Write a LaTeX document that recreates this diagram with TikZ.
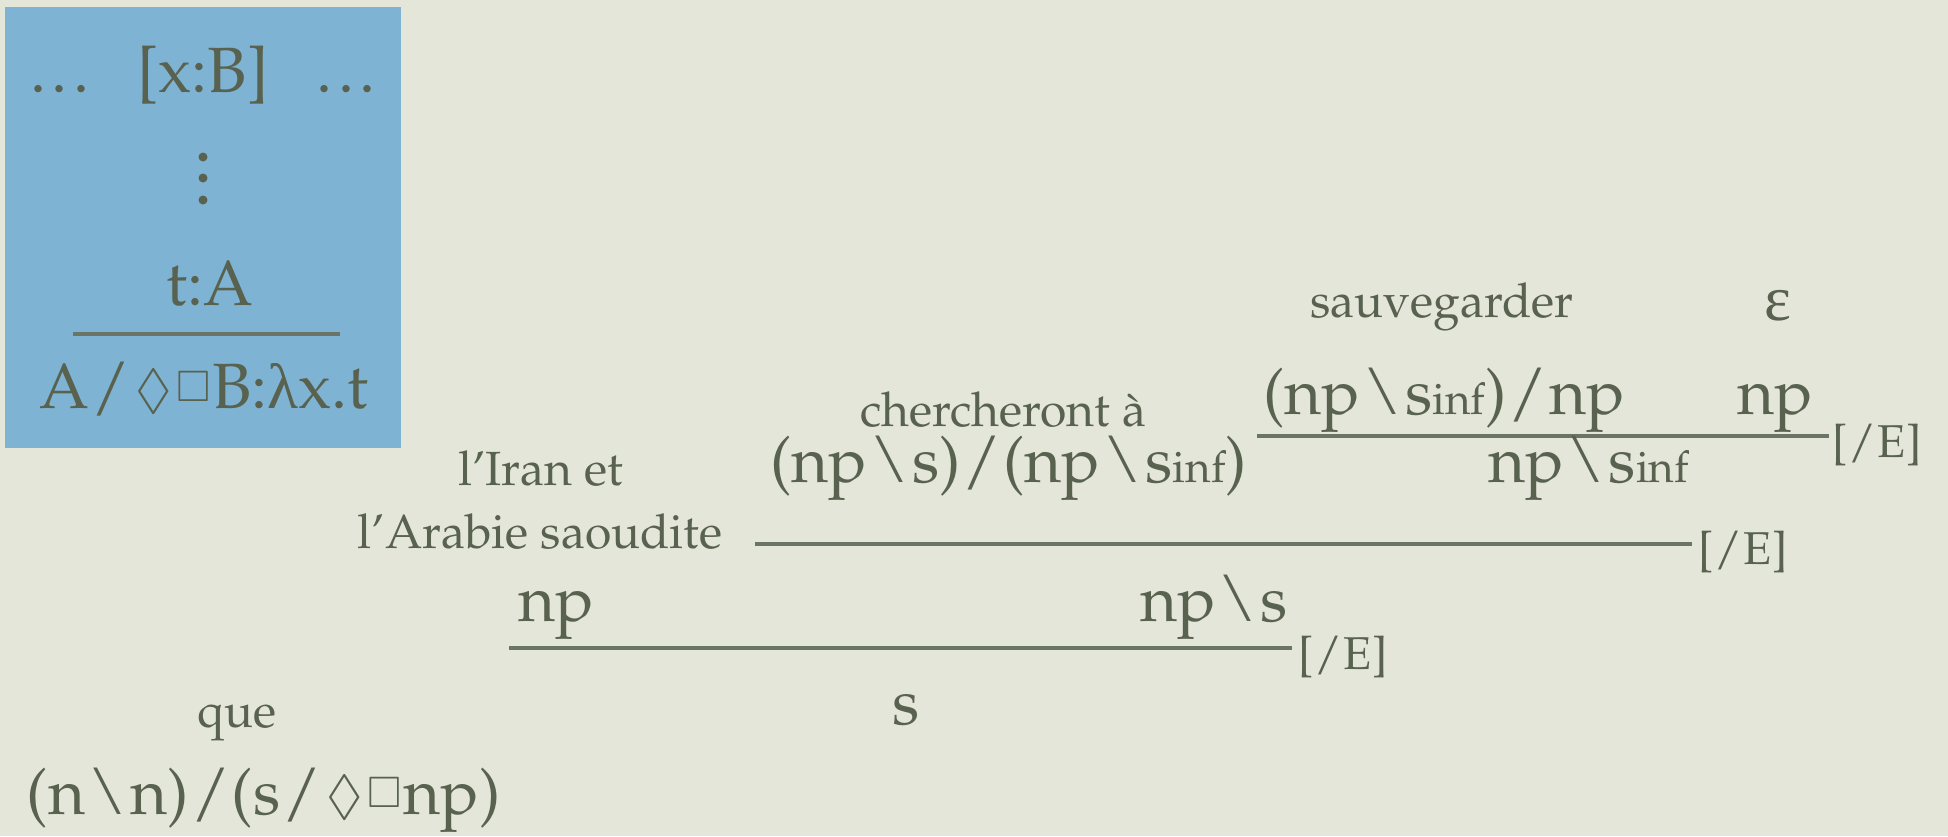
\documentclass[tikz,border=0pt]{standalone}
\usepackage[T1]{fontenc}
\usepackage{mathpazo}
\usepackage{amssymb}
\usepackage{graphicx}
\definecolor{bg}{HTML}{E4E6DA}
\definecolor{ink}{HTML}{58624F}
\definecolor{barc}{HTML}{6A7566}
\definecolor{boxblue}{HTML}{7FB3D4}
\font\grk="Liberation Serif" at 64pt
\newcommand\fbig{\fontsize{64}{70}\selectfont}
\newcommand\flab{\fontsize{48}{63}\selectfont}
\newcommand\frl{\fontsize{46}{50}\selectfont}
\newcommand\bsl{\kern0.05em\textbackslash\kern0.05em}
\newcommand\fsl{\kern0.03em/\kern0.03em}
\newcommand\sinf{s{\fontsize{44}{44}\selectfont inf}}
\newcommand\dbx{\kern0.05em\raisebox{0.01em}{\scalebox{0.82}{$\Diamond$}}\kern0.08em\raisebox{0.1em}{\scalebox{0.66}{$\square$}}\kern0.02em}
\newcommand\tdots{.\kern0.09em.\kern0.09em.}
\begin{document}
\begin{tikzpicture}[x=1pt,y=-1pt,
  every node/.style={inner sep=0pt,outer sep=0pt,text=ink},
  bar/.style={draw=barc,line width=4pt},
  dotn/.style={circle,fill=ink,minimum size=9pt}]
\fill[bg] (0,0) rectangle (1948,836);
\useasboundingbox (0,0) rectangle (1948,836);
% blue box
\fill[boxblue] (5,7) rectangle (401,448);
\node[anchor=base] (hyp) at (203,92) {\fbig\tdots\hspace{0.75em}[x:B]\hspace{0.75em}\tdots};
\node[dotn] (d1) at (203,157) {};
\node[dotn] (d2) at (203,178) {};
\node[dotn] (d3) at (203,200) {};
\node[anchor=base] (tA) at (210,305) {\fbig t:A};
\coordinate (b0l) at (73,334); \coordinate (b0r) at (340,334);
\draw[bar] (b0l) -- (b0r);
\node[anchor=base] (concl) at (204,408) {\fbig A\fsl\dbx B:{\grk λ}x.t};
% top level
\node[anchor=base] (sauv) at (1442,317) {\flab sauvegarder};
\node[anchor=base] (eps) at (1778,320) {\grk ε};
\node[anchor=base west] (f1) at (1263,414) {\fbig(np\bsl\sinf)\fsl np};
\node[anchor=base west] (f2) at (1737,414) {\fbig np};
\coordinate (b1l) at (1257,436); \coordinate (b1r) at (1829,436);
\draw[bar] (b1l) -- (b1r);
\node[anchor=base west] (r1) at (1832,457) {\frl[\fsl E]};
% second level
\node[anchor=base west] (cherch) at (860,426) {\flab chercheront \`a};
\node[anchor=base west] (f3) at (770,482) {\fbig(np\bsl s)\fsl(np\bsl\sinf)};
\node[anchor=base west] (f4) at (1488,482) {\fbig np\bsl\sinf};
\coordinate (b2l) at (755,544); \coordinate (b2r) at (1692,544);
\draw[bar] (b2l) -- (b2r);
\node[anchor=base west] (r2) at (1698,564) {\frl[\fsl E]};
\node[anchor=base] (iran1) at (541,485) {\flab l'Iran et};
\node[anchor=base] (iran2) at (540,548) {\flab l'Arabie saoudite};
% third level
\node[anchor=base west] (f5) at (518,621) {\fbig np};
\node[anchor=base west] (f6) at (1140,621) {\fbig np\bsl s};
\coordinate (b3l) at (509,648); \coordinate (b3r) at (1292,648);
\draw[bar] (b3l) -- (b3r);
\node[anchor=base west] (r3) at (1298,669) {\frl[\fsl E]};
\node[anchor=base] (s) at (906,724) {\fbig s};
% que
\node[anchor=base] (que) at (237,727) {\flab que};
\node[anchor=base west] (f7) at (27,814) {\fbig(n\bsl n)\fsl(s\fsl\dbx np)};
\end{tikzpicture}
\end{document}
